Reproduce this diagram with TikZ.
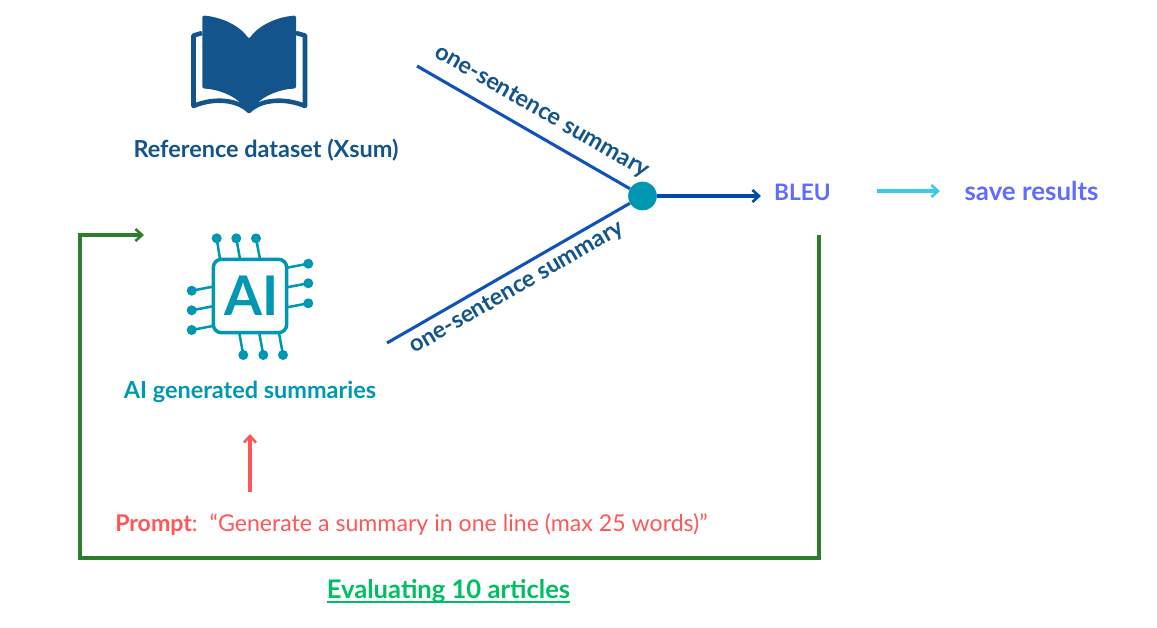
\documentclass[tikz,border=0pt]{standalone}
\usepackage{fontspec}
\setmainfont{Lato}
\usetikzlibrary{arrows.meta}
\definecolor{bookblue}{HTML}{14548C}
\definecolor{teal1}{HTML}{0097B2}
\definecolor{lineblue}{HTML}{0F52BA}
\definecolor{dkblue}{HTML}{004AAD}
\definecolor{periw}{HTML}{5E6CFF}
\definecolor{cyan1}{HTML}{38CBEE}
\definecolor{grn}{HTML}{2E7D2A}
\definecolor{grntxt}{HTML}{00BF63}
\definecolor{redc}{HTML}{FF5757}
\definecolor{sumtxt}{HTML}{14548C}
\tikzset{
  lbl/.style={inner sep=0pt,font=\fontsize{17.6}{19}\selectfont\bfseries},
  arr/.style={-{Straight Barb[length=5pt,width=9pt,line width=1.9pt]},line width=2.3pt},
  pin/.style={draw=teal1,line width=1.9pt},
  pindot/.style={circle,fill=teal1,inner sep=0pt,minimum size=7.5pt},
  feed/.style={draw=lineblue,line width=2.3pt}
}
\begin{document}
\begin{tikzpicture}[x=0.75pt,y=-0.75pt]
\useasboundingbox (0,0) rectangle (1157,628);
% book
\draw[bookblue,line width=3.4pt,line join=round,fill=white]
  (202,33) -- (193.5,35.5) -- (193.5,106)
  .. controls (215,97) and (238,100) .. (249,111)
  .. controls (260,100) and (283,97) .. (305,106)
  -- (305,35.5) -- (296,33);
\fill[bookblue,rounded corners=1.5pt]
  (202.3,15.5) .. controls (222,17) and (240,26) .. (249,39)
  .. controls (258,26) and (276,17) .. (296,15.5)
  -- (296,88.5)
  .. controls (280,89) and (263,96) .. (255,106)
  -- (249,111) -- (243,106)
  .. controls (235,96) and (218,89) .. (202.3,88.5) -- cycle;
\node[lbl,text=bookblue] (ref) at (266,150) {Reference dataset (Xsum)};
% chip
\foreach \n/\a/\b in {t1/216.7/220,t2/236.3/240,t3/256/260}
  {\node[pindot] (\n) at (\a,238.3) {}; \draw[pin] (\n.center) -- (\b,259);}
\foreach \n/\a/\b in {r1/263.7/267.7,r2/283.3/287.3,r3/303.3/307.3}
  {\node[pindot] (\n) at (308.3,\a) {}; \draw[pin] (\n.center) -- (287,\b);}
\foreach \n/\a/\b in {l1/290.7/286.7,l2/310.3/306.3,l3/330/326}
  {\node[pindot] (\n) at (191.7,\a) {}; \draw[pin] (\n.center) -- (212.7,\b);}
\foreach \n/\a/\b in {b1/243.3/239.3,b2/263.3/259.3,b3/283/279}
  {\node[pindot] (\n) at (\a,355) {}; \draw[pin] (\n.center) -- (\b,333);}
\node[draw=teal1,line width=2.6pt,fill=white,rounded corners=6pt,minimum width=55pt,minimum height=55pt,inner sep=0pt,text=teal1,font=\fontsize{41}{41}\selectfont\bfseries] (chip) at (250,296) {\hspace{3pt}AI};
\node[lbl,text=teal1] (gen) at (250,392) {AI generated summaries};
% junction
\node[circle,fill=teal1,inner sep=0pt,minimum size=21.5pt] (dot) at (642.5,196) {};
\coordinate (a1) at (417,66);
\coordinate (a2) at (387,343);
\draw[feed] (a1) -- (dot);
\draw[feed] (a2) -- (dot);
\node[lbl,text=sumtxt,rotate=-30] (s1) at (542,112) {one-sentence summary};
\node[lbl,text=sumtxt,rotate=30] (s2) at (517,288) {one-sentence summary};
\node[lbl,font=\fontsize{17}{19}\selectfont\bfseries,text=periw] (bleu) at (802.5,192) {BLEU};
\coordinate (d1) at (761,196);
\draw[arr,dkblue] (dot) -- (d1);
\coordinate (c1) at (877,191);
\coordinate (c2) at (940,191);
\node[lbl,font=\fontsize{19.4}{21}\selectfont\bfseries,text=periw] (save) at (1031.5,191) {save results};
\draw[arr,cyan1] (c1) -- (c2);
% loop
\coordinate (g0) at (819,235);
\coordinate (g1) at (819,558);
\coordinate (g2) at (80,558);
\coordinate (g3) at (80,235);
\coordinate (g4) at (144,235);
\draw[arr,grn,line join=miter] (g0) -- (g1) -- (g2) -- (g3) -- (g4);
\node[lbl,font=\fontsize{19.2}{21}\selectfont\bfseries,text=grntxt] (eval) at (448.5,591) {Evaluating 10 articles};
\coordinate (u1) at (327,601.5);
\coordinate (u2) at (570,601.5);
\draw[grntxt,line width=1.5pt] (u1) -- (u2);
% prompt
\node[inner sep=0pt,text=redc,font=\fontsize{17.35}{19}\selectfont] (prompt) at (411.5,525) {\textbf{Prompt}:~~“Generate a summary in one line (max 25 words)”};
\coordinate (p0) at (250,492);
\coordinate (p1) at (250,434);
\draw[arr,redc] (p0) -- (p1);
\end{tikzpicture}
\end{document}
